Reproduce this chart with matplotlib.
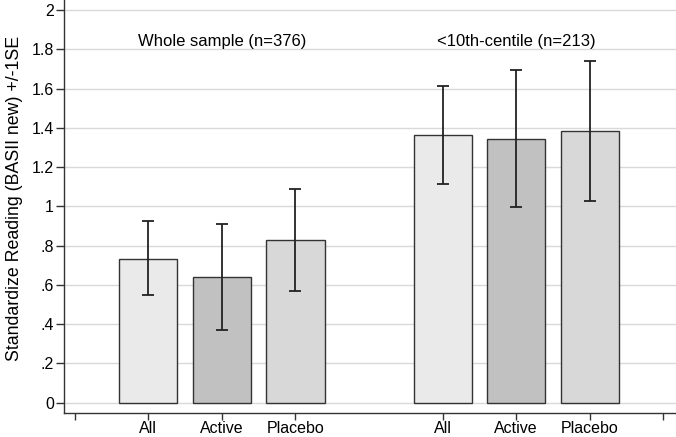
import matplotlib
matplotlib.use("Agg")
import matplotlib.pyplot as plt
import numpy as np

plt.rcParams['font.family'] = ['Liberation Sans', 'DejaVu Sans']

groups = ["Whole sample (n=376)", "<10th-centile (n=213)"]
categories = ["All", "Active", "Placebo"]
means = [[0.734, 0.638, 0.828], [1.362, 1.342, 1.383]]
err_low = [[0.548, 0.368, 0.570], [1.115, 0.997, 1.026]]
err_high = [[0.925, 0.912, 1.089], [1.615, 1.693, 1.742]]
colors = ["#eaeaea", "#c1c1c1", "#d8d8d8"]
yticks = [0, 0.2, 0.4, 0.6, 0.8, 1.0, 1.2, 1.4, 1.6, 1.8, 2.0]
ytick_labels = ["0", ".2", ".4", ".6", ".8", "1", "1.2", "1.4", "1.6", "1.8", "2"]

fig = plt.figure(figsize=(6.76, 4.37), dpi=100)
ax = fig.add_axes([64.3 / 676, 24 / 437, (676 - 64.3) / 676, 413 / 437])

ax.set_ylim(-0.0525, 2.051)
ax.set_xlim(-0.14, 8.17)

for y in yticks:
    ax.axhline(y, color="#d9d9d9", lw=1.0, zorder=0)

xpos_all = []
xlabels = []
for g in range(2):
    base = 1 + 4 * g
    xs = [base + i for i in range(3)]
    m = np.array(means[g])
    lo = m - np.array(err_low[g])
    hi = np.array(err_high[g]) - m
    ax.bar(xs, m, width=0.79, color=colors, edgecolor="#333333", linewidth=1.0, zorder=2)
    ax.errorbar(xs, m, yerr=[lo, hi], fmt="none", ecolor="#222222", elinewidth=1.3,
                capsize=4, capthick=1.3, zorder=3)
    ax.text(xs[1], 1.838, groups[g], ha="center", va="center", fontsize=12, zorder=4)
    xpos_all += xs
    xlabels += categories

ax.set_xticks([0] + xpos_all + [8])
ax.set_xticklabels([""] + xlabels + [""], fontsize=11.5)
ax.set_yticks(yticks)
ax.set_yticklabels(ytick_labels, fontsize=11.5)
ax.tick_params(axis="x", direction="out", length=5, width=1, color="#333333", pad=1)
ax.tick_params(axis="y", direction="out", length=6, width=1, color="#333333", pad=1.5)

for s in ["top", "right"]:
    ax.spines[s].set_visible(False)
for s in ["left", "bottom"]:
    ax.spines[s].set_color("#333333")
    ax.spines[s].set_linewidth(1.0)

fig.text(14.5 / 676, 1 - 198.5 / 437, "Standardize Reading (BASII new) +/-1SE",
         rotation=90, ha="center", va="center", fontsize=12.8)

fig.savefig("out.png", dpi=100)
